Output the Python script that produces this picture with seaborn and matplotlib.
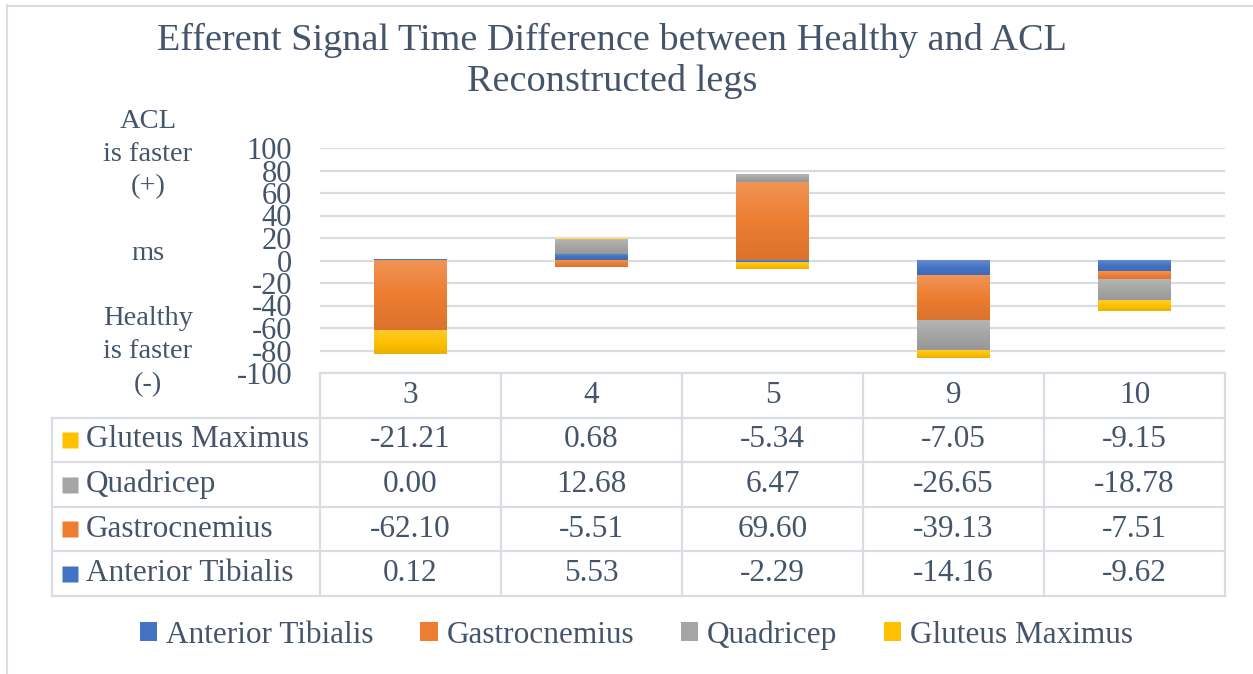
import numpy as np
import pandas as pd
import matplotlib
matplotlib.use("Agg")
import matplotlib.pyplot as plt
import seaborn as sns
from matplotlib.colors import LinearSegmentedColormap, to_rgb
from matplotlib.patches import Patch
from matplotlib.lines import Line2D

# ---- data -------------------------------------------------------------
subjects = ["3", "4", "5", "9", "10"]
series = ["Anterior Tibialis", "Gastrocnemius", "Quadricep", "Gluteus Maximus"]
anterior_tibialis = [0.12, 5.53, -2.29, -14.16, -9.62]
gastrocnemius = [-62.10, -5.51, 69.60, -39.13, -7.51]
quadricep = [0.00, 12.68, 6.47, -26.65, -18.78]
gluteus_maximus = [-21.21, 0.68, -5.34, -7.05, -9.15]
yticks = [-100, -80, -60, -40, -20, 0, 20, 40, 60, 80, 100]

title = "Efferent Signal Time Difference between Healthy and ACL\nReconstructed legs"
ylabel = "ACL\nis faster\n(+)\n\nms\n\nHealthy\nis faster\n(-)"

palette = {
    "Anterior Tibialis": "#4472C4",
    "Gastrocnemius": "#ED7D31",
    "Quadricep": "#A5A5A5",
    "Gluteus Maximus": "#FFC000",
}
values = dict(zip(series, [anterior_tibialis, gastrocnemius, quadricep, gluteus_maximus]))

# ---- style ------------------------------------------------------------
sns.set_theme(style="white")
plt.rcParams["font.family"] = ["Liberation Serif", "DejaVu Serif"]
TXT = "#44546A"
GRID = "#D9DDE3"
FS_TABLE = 22.5
FS_TICK = 22
FS_YLAB = 20.5

W, H = 1253, 674
fig = plt.figure(figsize=(W / 100, H / 100), dpi=100)
ax = fig.add_axes([320 / W, 1 - 373 / H, 905 / W, 225 / H])

# ---- stacked bars (positives and negatives stacked separately) ---------
pos_base = np.zeros(len(subjects))
neg_base = np.zeros(len(subjects))
for name in series:
    v = np.asarray(values[name], dtype=float)
    bottom = np.where(v >= 0, pos_base, neg_base)
    df = pd.DataFrame({"subject": subjects, "value": v})
    sns.barplot(data=df, x="subject", y="value", order=subjects, bottom=bottom,
                color=palette[name], saturation=1, width=0.4, errorbar=None,
                linewidth=0, ax=ax, zorder=2)
    pos_base += np.where(v > 0, v, 0)
    neg_base += np.where(v < 0, v, 0)


def shade(c, f):
    r = np.array(to_rgb(c))
    return tuple(np.clip(r + (1 - r) * f, 0, 1)) if f > 0 else tuple(np.clip(r * (1 + f), 0, 1))


# soft vertical gradient on each bar segment
grad = np.linspace(0, 1, 256).reshape(-1, 1)
for p in list(ax.patches):
    h = p.get_height()
    if abs(h) < 1e-9:
        continue
    fc = p.get_facecolor()[:3]
    cmap = LinearSegmentedColormap.from_list("g", [shade(fc, 0.18), shade(fc, 0.0), shade(fc, -0.08)])
    x0, y0 = p.get_x(), p.get_y()
    x1, y1 = x0 + p.get_width(), y0 + h
    ax.imshow(grad, cmap=cmap, extent=[x0, x1, min(y0, y1), max(y0, y1)],
              origin="upper", aspect="auto", zorder=3, interpolation="bilinear")

ax.set_xlim(-0.5, len(subjects) - 0.5)
ax.set_ylim(-100, 100)
ax.set_yticks(yticks)
ax.set_yticklabels([str(t) for t in yticks], fontsize=FS_TICK, color=TXT)
ax.tick_params(axis="y", length=0, pad=20)
ax.set_xticks([])
ax.set_xlabel("")
ax.set_ylabel("")
ax.yaxis.grid(True, color=GRID, lw=1.6, zorder=0)
ax.set_axisbelow(True)
for s in ax.spines.values():
    s.set_visible(False)

fig.text(148 / W, 1 - 253 / H, ylabel, ha="center", va="center", fontsize=FS_YLAB,
         color=TXT, linespacing=1.42)

# ---- data table --------------------------------------------------------
tax = fig.add_axes([52 / W, 1 - 596 / H, (1225 - 52) / W, 223 / H])
label_w = 268 / 181
x_left = -0.5 - label_w
x_right = len(subjects) - 0.5
tax.set_xlim(x_left, x_right)
tax.set_ylim(5, 0)
tax.axis("off")

lkw = dict(color=GRID, lw=1.6, clip_on=False, solid_capstyle="projecting")
tax.plot([-0.5, x_right], [0, 0], **lkw)
for yy in range(1, 6):
    tax.plot([x_left, x_right], [yy, yy], **lkw)
for xx in np.arange(-0.5, x_right + 0.01, 1.0):
    tax.plot([xx, xx], [0, 5], **lkw)
tax.plot([x_left, x_left], [1, 5], **lkw)

for i, sub in enumerate(subjects):
    tax.text(i, 0.5, sub, ha="center", va="center", fontsize=FS_TABLE, color=TXT)

for r, name in enumerate(reversed(series)):
    yy = r + 1.5
    tax.plot([x_left + 18 / 181], [yy], marker="s", ms=12, color=palette[name],
             mec="none", clip_on=False)
    tax.text(x_left + 34 / 181, yy, name, ha="left", va="center", fontsize=FS_TABLE, color=TXT)
    for i, val in enumerate(values[name]):
        tax.text(i, yy, f"{val:.2f}", ha="center", va="center", fontsize=FS_TABLE, color=TXT)

# ---- title, legend, frame ---------------------------------------------
fig.text(612 / W, 1 - 61 / H, title, ha="center", va="center", fontsize=27.5,
         color=TXT, linespacing=1.23)

handles = [Patch(facecolor=palette[n], edgecolor="none", label=n) for n in series]
fig.legend(handles=handles, loc="center", bbox_to_anchor=(0.5 + 10 / W, 1 - 635 / H), ncol=4,
           frameon=False, fontsize=FS_TABLE, handlelength=0.55, handleheight=0.55,
           handletextpad=0.28, columnspacing=1.5, labelcolor=TXT)

fig.add_artist(Line2D([6.5 / W, 6.5 / W], [0, 1 - 5 / H], color=GRID, lw=1.5))
fig.add_artist(Line2D([6.5 / W, 1], [1 - 5.5 / H, 1 - 5.5 / H], color=GRID, lw=1.5))

fig.savefig("out.png", dpi=100, facecolor="white")
